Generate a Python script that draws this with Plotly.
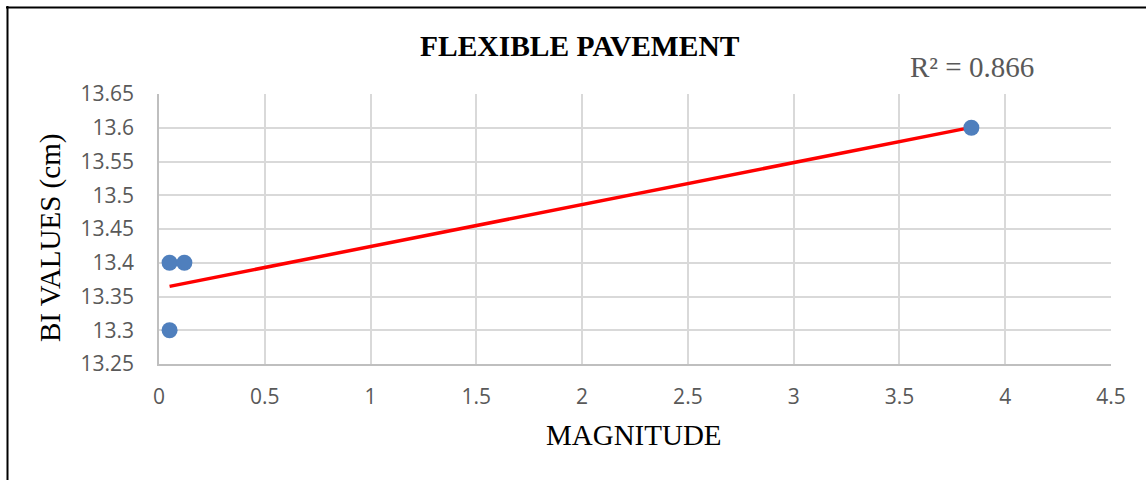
import numpy as np
import plotly.graph_objects as go

# Data
magnitude = [0.05, 0.12, 0.05, 3.84]
bi_values = [13.4, 13.4, 13.3, 13.6]
x_ticks = [0, 0.5, 1, 1.5, 2, 2.5, 3, 3.5, 4, 4.5]
y_ticks = [13.25, 13.3, 13.35, 13.4, 13.45, 13.5, 13.55, 13.6, 13.65]
title_text = "FLEXIBLE PAVEMENT"
x_title = "MAGNITUDE"
y_title = "BI VALUES (cm)"
r2_label = "R² = 0.866"

# Linear trendline
slope, intercept = np.polyfit(magnitude, bi_values, 1)
tx = [min(magnitude), max(magnitude)]
ty = [slope * v + intercept for v in tx]

W, H = 1146, 480
L, R, T, B = 159, 35, 94, 116
pw, ph = W - L - R, H - T - B

def px(x):
    return (x - L) / pw

def py(y):
    return (H - B - y) / ph

fig = go.Figure()
fig.add_trace(go.Scatter(x=tx, y=ty, mode="lines",
                         line=dict(color="#ff0000", width=3.5),
                         showlegend=False, hoverinfo="skip"))
fig.add_trace(go.Scatter(x=magnitude, y=bi_values, mode="markers",
                         marker=dict(color="#4f7fbd", size=16),
                         showlegend=False))

tickfont = dict(family="Open Sans", size=21, color="#595959")
grid = "#d9d9d9"
serif = "Liberation Serif"

fig.update_layout(
    width=W, height=H,
    margin=dict(l=L, r=R, t=T, b=B),
    paper_bgcolor="white", plot_bgcolor="white",
    xaxis=dict(range=[0, 4.5], tickvals=x_ticks, ticktext=[f"{v:g}" for v in x_ticks],
               showgrid=True, gridcolor=grid, gridwidth=1.5,
               showline=True, linecolor="#bfbfbf", linewidth=1.5,
               zeroline=False, ticks="outside", ticklen=13, tickcolor="rgba(0,0,0,0)",
               tickfont=tickfont),
    yaxis=dict(range=[13.25, 13.65], tickvals=y_ticks, ticktext=[f"{v:g}" for v in y_ticks],
               showgrid=True, gridcolor=grid, gridwidth=1.5,
               showline=True, linecolor="#bfbfbf", linewidth=1.5,
               zeroline=False, ticks="outside", ticklen=19, tickcolor="rgba(0,0,0,0)",
               tickfont=tickfont),
    annotations=[
        dict(text=f"<b>{title_text}</b>", x=px(580), y=py(46), xref="paper", yref="paper",
             xanchor="center", yanchor="middle", showarrow=False,
             font=dict(family=serif, size=29.5, color="#000000")),
        dict(text=r2_label, x=px(972), y=py(67), xref="paper", yref="paper",
             xanchor="center", yanchor="middle", showarrow=False,
             font=dict(family=serif, size=29, color="#595959")),
        dict(text=x_title, x=px(634), y=py(435), xref="paper", yref="paper",
             xanchor="center", yanchor="middle", showarrow=False,
             font=dict(family=serif, size=29, color="#000000")),
        dict(text=y_title, x=px(50), y=py(238), xref="paper", yref="paper",
             xanchor="center", yanchor="middle", showarrow=False, textangle=-90,
             font=dict(family=serif, size=29, color="#000000")),
    ],
    shapes=[
        dict(type="line", xref="paper", yref="paper", x0=px(6), x1=px(W + 5), y0=py(7.5), y1=py(7.5),
             line=dict(color="black", width=2)),
        dict(type="line", xref="paper", yref="paper", x0=px(7.5), x1=px(7.5), y0=py(6), y1=py(H + 5),
             line=dict(color="black", width=2)),
    ],
)

fig.write_html("out.html", config={"displayModeBar": False},
               post_script="document.body.style.margin='0';document.body.style.overflow='hidden';")
